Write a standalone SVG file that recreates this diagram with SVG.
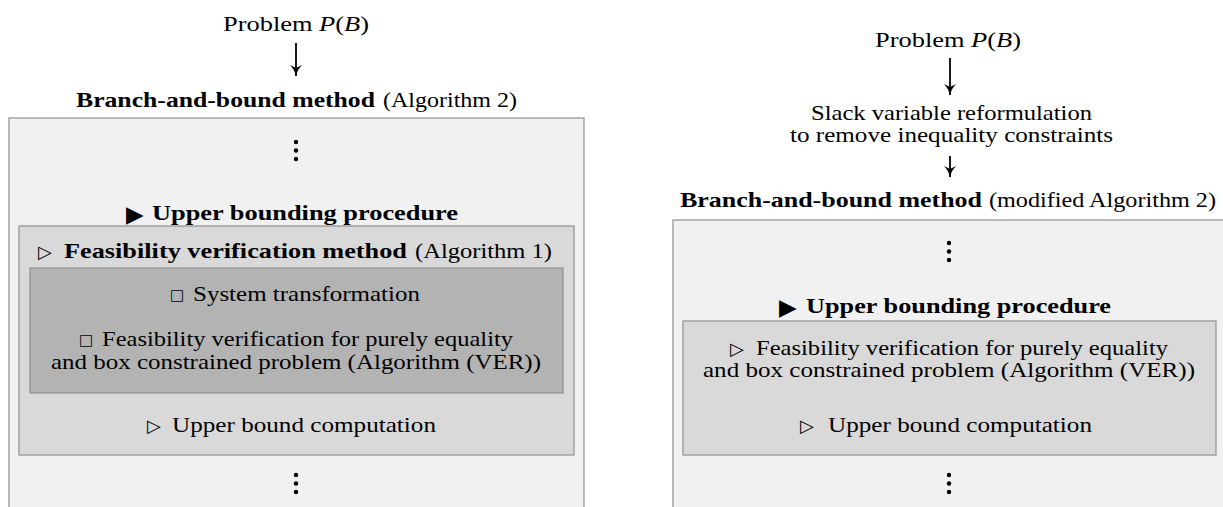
<svg xmlns="http://www.w3.org/2000/svg" width="1223" height="507" viewBox="0 0 1223 507">
<style>
.t{font-family:"Liberation Serif","Times New Roman",serif;font-size:21px;fill:#000}
.b{font-weight:bold}
.i{font-style:italic}
.sym{font-family:"DejaVu Sans",sans-serif;fill:#000}
.big{font-size:23px}
.tri{font-size:18px}
.sq{font-size:15px}
.outer{fill:#f1f1f1;stroke:#8f8f8f;stroke-width:1.2}
.inner{fill:#d9d9d9;stroke:#8f8f8f;stroke-width:1.2}
.dark{fill:#b3b3b3;stroke:#8f8f8f;stroke-width:1.2}
.arr{stroke:#000;stroke-width:1.8;fill:none;marker-end:url(#ah)}
</style>
<defs>
<marker id="ah" markerUnits="userSpaceOnUse" viewBox="-12 -7 14 14" refX="0" refY="0" markerWidth="14" markerHeight="14" orient="auto">
<path d="M-11,-6 C-7,-2.2 -3.5,-0.7 0.8,0 C-3.5,0.7 -7,2.2 -11,6 L-8,0 Z" fill="#000"/>
</marker>
</defs>
<rect width="1223" height="507" fill="#fff"/>

<!-- LEFT -->
<g id="left-problem">
<text class="t" x="223" y="31" textLength="146" lengthAdjust="spacingAndGlyphs">Problem <tspan class="i">P</tspan>(<tspan class="i">B</tspan>)</text>
</g>
<g id="left-bb">
<text class="t b" x="76" y="107" textLength="299" lengthAdjust="spacingAndGlyphs">Branch-and-bound method</text>
<text class="t" x="383" y="107" textLength="134" lengthAdjust="spacingAndGlyphs">(Algorithm 2)</text>
<rect class="outer" x="9" y="118" width="575" height="400"/>
<circle cx="296" cy="142" r="2.2"/><circle cx="296" cy="150.5" r="2.2"/><circle cx="296" cy="159" r="2.2"/>
<circle cx="296" cy="475" r="2.2"/><circle cx="296" cy="483.5" r="2.2"/><circle cx="296" cy="492" r="2.2"/>
</g>
<g id="left-ubp">
<text class="sym big" x="126" y="222">▶</text>
<text class="t b" x="152" y="220" textLength="306" lengthAdjust="spacingAndGlyphs">Upper bounding procedure</text>
<rect class="inner" x="19" y="226" width="555" height="229"/>
<text class="sym tri" x="38" y="258">▷</text>
<text class="t b" x="64" y="258" textLength="343" lengthAdjust="spacingAndGlyphs">Feasibility verification method</text>
<text class="t" x="415" y="258" textLength="137" lengthAdjust="spacingAndGlyphs">(Algorithm 1)</text>
<text class="sym tri" x="147" y="432">▷</text>
<text class="t" x="172" y="432" textLength="264" lengthAdjust="spacingAndGlyphs">Upper bound computation</text>
</g>
<g id="left-fvm">
<rect class="dark" x="30" y="268" width="533" height="125"/>
<text class="sym sq" x="170" y="300">□</text>
<text class="t" x="193" y="301" textLength="227" lengthAdjust="spacingAndGlyphs">System transformation</text>
<text class="sym sq" x="79" y="345">□</text>
<text class="t" x="102" y="346" textLength="411" lengthAdjust="spacingAndGlyphs">Feasibility verification for purely equality</text>
<text class="t" x="51" y="368.5" textLength="490" lengthAdjust="spacingAndGlyphs">and box constrained problem (Algorithm (VER))</text>
</g>

<!-- RIGHT -->
<g id="right-problem">
<text class="t" x="875" y="47" textLength="146" lengthAdjust="spacingAndGlyphs">Problem <tspan class="i">P</tspan>(<tspan class="i">B</tspan>)</text>
</g>
<g id="right-slack">
<text class="t" x="811" y="120" textLength="281" lengthAdjust="spacingAndGlyphs">Slack variable reformulation</text>
<text class="t" x="790" y="142" textLength="323" lengthAdjust="spacingAndGlyphs">to remove inequality constraints</text>
</g>
<g id="right-bb">
<text class="t b" x="680" y="207" textLength="302" lengthAdjust="spacingAndGlyphs">Branch-and-bound method</text>
<text class="t" x="989" y="207" textLength="227" lengthAdjust="spacingAndGlyphs">(modified Algorithm 2)</text>
<rect class="outer" x="673" y="220" width="553" height="300"/>
<circle cx="949" cy="243" r="2.2"/><circle cx="949" cy="251.5" r="2.2"/><circle cx="949" cy="260" r="2.2"/>
<circle cx="949" cy="475" r="2.2"/><circle cx="949" cy="483.5" r="2.2"/><circle cx="949" cy="492" r="2.2"/>
</g>
<g id="right-ubp">
<text class="sym big" x="779" y="315">▶</text>
<text class="t b" x="806" y="313" textLength="305" lengthAdjust="spacingAndGlyphs">Upper bounding procedure</text>
<rect class="inner" x="683" y="321" width="533" height="134"/>
<text class="sym tri" x="730" y="355">▷</text>
<text class="t" x="756" y="355" textLength="412" lengthAdjust="spacingAndGlyphs">Feasibility verification for purely equality</text>
<text class="t" x="703" y="377" textLength="492" lengthAdjust="spacingAndGlyphs">and box constrained problem (Algorithm (VER))</text>
<text class="sym tri" x="800" y="432">▷</text>
<text class="t" x="828" y="432" textLength="264" lengthAdjust="spacingAndGlyphs">Upper bound computation</text>
</g>

<g id="connectors">
<line class="arr" x1="296" y1="43" x2="296" y2="76"/>
<line class="arr" x1="950" y1="58" x2="950" y2="95"/>
<line class="arr" x1="950" y1="156" x2="950" y2="177"/>
</g>
</svg>
